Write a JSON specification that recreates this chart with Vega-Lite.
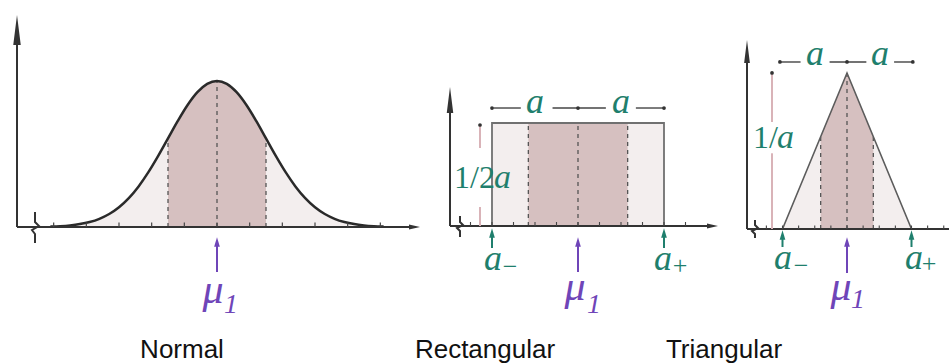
{
  "$schema": "https://vega.github.io/schema/vega-lite/v6.json",
  "padding": 0,
  "bounds": "flush",
  "spacing": 0,
  "background": "white",
  "config": {"view": {"stroke": null}},
  "datasets": {
    "nCurve": [
      {"z":-3.4,"density":0.00123},{"z":-3.2,"density":0.00238},{"z":-3.0,"density":0.00443},{"z":-2.8,"density":0.00792},{"z":-2.6,"density":0.01358},{"z":-2.4,"density":0.02239},{"z":-2.2,"density":0.03547},{"z":-2.0,"density":0.05399},{"z":-1.8,"density":0.07895},{"z":-1.6,"density":0.11092},{"z":-1.4,"density":0.14973},{"z":-1.2,"density":0.19419},{"z":-1.0,"density":0.24197},{"z":-0.8,"density":0.28969},{"z":-0.6,"density":0.33322},{"z":-0.4,"density":0.36827},{"z":-0.2,"density":0.39104},{"z":0,"density":0.39894},{"z":0.2,"density":0.39104},{"z":0.4,"density":0.36827},{"z":0.6,"density":0.33322},{"z":0.8,"density":0.28969},{"z":1.0,"density":0.24197},{"z":1.2,"density":0.19419},{"z":1.4,"density":0.14973},{"z":1.6,"density":0.11092},{"z":1.8,"density":0.07895},{"z":2.0,"density":0.05399},{"z":2.2,"density":0.03547},{"z":2.4,"density":0.02239},{"z":2.6,"density":0.01358},{"z":2.8,"density":0.00792},{"z":3.0,"density":0.00443},{"z":3.2,"density":0.00238},{"z":3.4,"density":0.00123}
    ],
    "nGuides": [{"z":-1,"bottom":0,"top":0.24197},{"z":0,"bottom":0,"top":0.39894},{"z":1,"bottom":0,"top":0.24197}],
    "nTicks": [{"z":-3.3333,"level":0},{"z":-2.6667,"level":0},{"z":-2,"level":0},{"z":-1.3333,"level":0},{"z":-0.6667,"level":0},{"z":0,"level":0},{"z":0.6667,"level":0},{"z":1.3333,"level":0},{"z":2,"level":0},{"z":2.6667,"level":0},{"z":3.3333,"level":0}],
    "nAxes": [{"x0":-4.0816,"x1":-4.0816,"y0":0,"y1":0.5383},{"x0":-4.0816,"x1":4.0306,"y0":0,"y1":0}],
    "nHeadUp": [{"x":-4.0816,"y":0.5383}],
    "nHeadRight": [{"x":4.0306,"y":0}],
    "nBreak": [{"i":1,"x":-3.7143,"y":0.0410},{"i":2,"x":-3.7143,"y":0.0137},{"i":3,"x":-3.6327,"y":0.0027},{"i":4,"x":-3.7755,"y":-0.0082},{"i":5,"x":-3.7143,"y":-0.0191},{"i":6,"x":-3.7143,"y":-0.0437}],
    "nArrows": [{"x":0,"y0":-0.1230,"y1":-0.0410,"kind":"mean"}],
    "nMu": [{"x":-0.0816,"y":-0.2077,"text":"μ","kind":"mean"}],
    "nSub": [{"x":0.2857,"y":-0.2350,"text":"1","kind":"mean"}],
    "nTitle": [{"x":-0.7143,"y":-0.3579,"text":"Normal"}],

    "rOuter": [{"lo":-1,"hi":1,"bottom":0,"top":0.5}],
    "rInner": [{"lo":-0.5774,"hi":0.5774,"bottom":0,"top":0.5}],
    "rGuides": [{"u":-0.5774,"bottom":0,"top":0.5},{"u":0,"bottom":0,"top":0.5},{"u":0.5774,"bottom":0,"top":0.5}],
    "rTicks": [{"u":-1.25,"level":0},{"u":-1,"level":0},{"u":-0.75,"level":0},{"u":-0.5,"level":0},{"u":-0.25,"level":0},{"u":0,"level":0},{"u":0.25,"level":0},{"u":0.5,"level":0},{"u":0.75,"level":0},{"u":1,"level":0},{"u":1.25,"level":0}],
    "rAxes": [{"x0":-1.4884,"x1":-1.4884,"y0":0,"y1":0.6117},{"x0":-1.4884,"x1":1.5640,"y0":0,"y1":0}],
    "rHeadUp": [{"x":-1.4884,"y":0.6117}],
    "rHeadRight": [{"x":1.5640,"y":0}],
    "rBreak": [{"i":1,"x":-1.3721,"y":0.0485},{"i":2,"x":-1.3721,"y":0.0194},{"i":3,"x":-1.3372,"y":0.0049},{"i":4,"x":-1.4070,"y":-0.0097},{"i":5,"x":-1.3721,"y":-0.0243},{"i":6,"x":-1.3721,"y":-0.0534}],
    "rAnno": [{"x0":-0.985,"x1":-0.665,"level":0.5728},{"x0":-0.296,"x1":0.324,"level":0.5728},{"x0":0.673,"x1":0.992,"level":0.5728}],
    "rAnnoDots": [{"x":-1,"level":0.5728},{"x":0,"level":0.5728},{"x":1,"level":0.5728}],
    "rPink": [{"x":-1.1395,"y0":0.3786,"y1":0.4903},{"x":-1.1395,"y0":0,"y1":0.0922}],
    "rPinkDot": [{"x":-1.1395,"y":0.4903}],
    "rArrows": [{"x":0,"y0":-0.2233,"y1":-0.0777,"kind":"mean"},{"x":-1,"y0":-0.1068,"y1":-0.0340,"kind":"bound"},{"x":1,"y0":-0.1068,"y1":-0.0340,"kind":"bound"}],
    "rMu": [{"x":-0.0349,"y":-0.3592,"text":"μ","kind":"mean"}],
    "rA": [{"x":-0.9884,"y":-0.2136,"text":"a","kind":"bound"},{"x":0.9884,"y":-0.2136,"text":"a","kind":"bound"},{"x":-0.5,"y":0.5485,"text":"a","kind":"bound"},{"x":0.5,"y":0.5485,"text":"a","kind":"bound"}],
    "rSub": [{"x":0.1860,"y":-0.4223,"text":"1","kind":"mean"}],
    "rSigns": [{"x":-0.7907,"y":-0.1990,"text":"−","kind":"bound"},{"x":1.1860,"y":-0.1942,"text":"+","kind":"bound"}],
    "rFrac": [{"x":-0.9651,"y":0.1845,"text":"1/2","kind":"bound"}],
    "rFracA": [{"x":-0.9767,"y":0.1845,"text":"a","kind":"bound"}],
    "rTitle": [{"x":-1.0814,"y":-0.6408,"text":"Rectangular"}],

    "tOuter": [{"u":-1,"d":0},{"u":0,"d":1},{"u":1,"d":0}],
    "tInner": [{"u":-0.4082,"d":0.5918},{"u":0,"d":1},{"u":0.4082,"d":0.5918}],
    "tGuides": [{"u":-0.4082,"bottom":0,"top":0.5918},{"u":0,"bottom":0,"top":1},{"u":0.4082,"bottom":0,"top":0.5918}],
    "tTicks": [{"u":-1.25,"level":0},{"u":-1,"level":0},{"u":-0.75,"level":0},{"u":-0.5,"level":0},{"u":-0.25,"level":0},{"u":0,"level":0},{"u":0.25,"level":0},{"u":0.5,"level":0},{"u":0.75,"level":0},{"u":1,"level":0},{"u":1.25,"level":0},{"u":1.5,"level":0}],
    "tAxes": [{"x0":-1.5504,"x1":-1.5504,"y0":0,"y1":1.1378},{"x0":-1.5504,"x1":1.5814,"y0":0,"y1":0}],
    "tHeadUp": [{"x":-1.5504,"y":1.1378}],
    "tBreak": [{"i":1,"x":-1.4264,"y":0.0577},{"i":2,"x":-1.4264,"y":0.0256},{"i":3,"x":-1.3798,"y":0.0064},{"i":4,"x":-1.4729,"y":-0.0128},{"i":5,"x":-1.4264,"y":-0.0321},{"i":6,"x":-1.4264,"y":-0.0577}],
    "tAnno": [{"x0":-1.04,"x1":-0.72,"level":1.0705},{"x0":-0.27,"x1":0.3,"level":1.0705},{"x0":0.73,"x1":1.02,"level":1.0705}],
    "tAnnoDots": [{"x":-1.04,"level":1.0705},{"x":0,"level":1.0705},{"x":1.02,"level":1.0705}],
    "tPink": [{"x":-1.1628,"y0":0.6859,"y1":1.0},{"x":-1.1628,"y0":0,"y1":0.4853}],
    "tPinkDot": [{"x":-1.1628,"y":1.0}],
    "tArrows": [{"x":0,"y0":-0.2821,"y1":-0.0833,"kind":"mean"},{"x":-1,"y0":-0.1154,"y1":-0.0385,"kind":"bound"},{"x":1,"y0":-0.1154,"y1":-0.0385,"kind":"bound"}],
    "tMu": [{"x":-0.0930,"y":-0.4551,"text":"μ","kind":"mean"}],
    "tA": [{"x":-0.9922,"y":-0.2564,"text":"a","kind":"bound"},{"x":1.0388,"y":-0.2564,"text":"a","kind":"bound"},{"x":-0.496,"y":1.0513,"text":"a","kind":"bound"},{"x":0.512,"y":1.0513,"text":"a","kind":"bound"}],
    "tSub": [{"x":0.1705,"y":-0.5064,"text":"1","kind":"mean"}],
    "tSigns": [{"x":-0.7132,"y":-0.2372,"text":"−","kind":"bound"},{"x":1.2713,"y":-0.2244,"text":"+","kind":"bound"}],
    "tFrac": [{"x":-1.0698,"y":0.5192,"text":"1/","kind":"bound"}],
    "tFracA": [{"x":-1.0853,"y":0.5192,"text":"a","kind":"bound"}],
    "tTitle": [{"x":-1.9070,"y":-0.8269,"text":"Triangular"}]
  },
  "hconcat": [
    {
      "width": 430, "height": 363,
      "layer": [
        {"data":{"name":"nCurve"},"mark":{"type":"area","fill":"#f3eeee","interpolate":"monotone"},
         "encoding":{"x":{"field":"z","type":"quantitative","scale":{"domain":[-4.4286,4.3469],"nice":false,"zero":false},"axis":null},
                     "y":{"field":"density","type":"quantitative","scale":{"domain":[-0.3716,0.6202],"nice":false,"zero":false},"axis":null}}},
        {"data":{"name":"nCurve"},"transform":[{"filter":"datum.z >= -1.001 && datum.z <= 1.001"}],"mark":{"type":"area","fill":"#d6c0c0","interpolate":"monotone"},
         "encoding":{"x":{"field":"z","type":"quantitative","scale":{"domain":[-4.4286,4.3469],"nice":false,"zero":false},"axis":null},
                     "y":{"field":"density","type":"quantitative","scale":{"domain":[-0.3716,0.6202],"nice":false,"zero":false},"axis":null}}},
        {"data":{"name":"nGuides"},"mark":{"type":"rule","color":"#555555","strokeWidth":1.3,"strokeDash":[4,4]},
         "encoding":{"x":{"field":"z","type":"quantitative","scale":{"domain":[-4.4286,4.3469],"nice":false,"zero":false},"axis":null},
                     "y":{"field":"bottom","type":"quantitative","scale":{"domain":[-0.3716,0.6202],"nice":false,"zero":false},"axis":null},
                     "y2":{"field":"top"}}},
        {"data":{"name":"nCurve"},"mark":{"type":"line","color":"#2a2a2a","strokeWidth":2.5,"interpolate":"monotone"},
         "encoding":{"x":{"field":"z","type":"quantitative","scale":{"domain":[-4.4286,4.3469],"nice":false,"zero":false},"axis":null},
                     "y":{"field":"density","type":"quantitative","scale":{"domain":[-0.3716,0.6202],"nice":false,"zero":false},"axis":null}}},
        {"data":{"name":"nAxes"},"mark":{"type":"rule","color":"#333333","strokeWidth":2},
         "encoding":{"x":{"field":"x0","type":"quantitative","scale":{"domain":[-4.4286,4.3469],"nice":false,"zero":false},"axis":null},"x2":{"field":"x1"},
                     "y":{"field":"y0","type":"quantitative","scale":{"domain":[-0.3716,0.6202],"nice":false,"zero":false},"axis":null},"y2":{"field":"y1"}}},
        {"data":{"name":"nHeadUp"},"mark":{"type":"point","shape":"M0,-1L0.25,1L-0.25,1Z","size":900,"filled":true,"opacity":1,"color":"#333333","strokeWidth":0},
         "encoding":{"x":{"field":"x","type":"quantitative","scale":{"domain":[-4.4286,4.3469],"nice":false,"zero":false},"axis":null},
                     "y":{"field":"y","type":"quantitative","scale":{"domain":[-0.3716,0.6202],"nice":false,"zero":false},"axis":null}}},
        {"data":{"name":"nHeadRight"},"mark":{"type":"point","shape":"M1,0L-1,-0.45L-1,0.45Z","size":121,"filled":true,"opacity":1,"color":"#333333","strokeWidth":0},
         "encoding":{"x":{"field":"x","type":"quantitative","scale":{"domain":[-4.4286,4.3469],"nice":false,"zero":false},"axis":null},
                     "y":{"field":"y","type":"quantitative","scale":{"domain":[-0.3716,0.6202],"nice":false,"zero":false},"axis":null}}},
        {"data":{"name":"nBreak"},"mark":{"type":"line","color":"#333333","strokeWidth":2},
         "encoding":{"x":{"field":"x","type":"quantitative","scale":{"domain":[-4.4286,4.3469],"nice":false,"zero":false},"axis":null},
                     "y":{"field":"y","type":"quantitative","scale":{"domain":[-0.3716,0.6202],"nice":false,"zero":false},"axis":null},
                     "order":{"field":"i","type":"quantitative"}}},
        {"data":{"name":"nTicks"},"mark":{"type":"point","shape":"M0,-1L0,0","size":81,"filled":false,"opacity":1,"stroke":"#444444","strokeWidth":1.2},
         "encoding":{"x":{"field":"z","type":"quantitative","scale":{"domain":[-4.4286,4.3469],"nice":false,"zero":false},"axis":null},
                     "y":{"field":"level","type":"quantitative","scale":{"domain":[-0.3716,0.6202],"nice":false,"zero":false},"axis":null}}},
        {"data":{"name":"nArrows"},"mark":{"type":"rule","strokeWidth":2},
         "encoding":{"x":{"field":"x","type":"quantitative","scale":{"domain":[-4.4286,4.3469],"nice":false,"zero":false},"axis":null},
                     "y":{"field":"y0","type":"quantitative","scale":{"domain":[-0.3716,0.6202],"nice":false,"zero":false},"axis":null},"y2":{"field":"y1"},
                     "color":{"field":"kind","type":"nominal","scale":{"domain":["mean","bound"],"range":["#6f45b8","#1f7f6d"]},"legend":null}}},
        {"data":{"name":"nArrows"},"mark":{"type":"point","shape":"M0,-1L0.6,1L-0.6,1Z","size":90,"filled":true,"opacity":1,"strokeWidth":0},
         "encoding":{"x":{"field":"x","type":"quantitative","scale":{"domain":[-4.4286,4.3469],"nice":false,"zero":false},"axis":null},
                     "y":{"field":"y1","type":"quantitative","scale":{"domain":[-0.3716,0.6202],"nice":false,"zero":false},"axis":null},
                     "color":{"field":"kind","type":"nominal","scale":{"domain":["mean","bound"],"range":["#6f45b8","#1f7f6d"]},"legend":null}}},
        {"data":{"name":"nMu"},"mark":{"type":"text","font":"Liberation Serif","fontStyle":"italic","fontSize":42,"align":"center","baseline":"alphabetic"},
         "encoding":{"x":{"field":"x","type":"quantitative","scale":{"domain":[-4.4286,4.3469],"nice":false,"zero":false},"axis":null},
                     "y":{"field":"y","type":"quantitative","scale":{"domain":[-0.3716,0.6202],"nice":false,"zero":false},"axis":null},
                     "text":{"field":"text","type":"nominal"},
                     "color":{"field":"kind","type":"nominal","scale":{"domain":["mean","bound"],"range":["#6f45b8","#1f7f6d"]},"legend":null}}},
        {"data":{"name":"nSub"},"mark":{"type":"text","font":"Liberation Serif","fontStyle":"italic","fontSize":28,"align":"center","baseline":"alphabetic"},
         "encoding":{"x":{"field":"x","type":"quantitative","scale":{"domain":[-4.4286,4.3469],"nice":false,"zero":false},"axis":null},
                     "y":{"field":"y","type":"quantitative","scale":{"domain":[-0.3716,0.6202],"nice":false,"zero":false},"axis":null},
                     "text":{"field":"text","type":"nominal"},
                     "color":{"field":"kind","type":"nominal","scale":{"domain":["mean","bound"],"range":["#6f45b8","#1f7f6d"]},"legend":null}}},
        {"data":{"name":"nTitle"},"mark":{"type":"text","font":"Liberation Sans","fontSize":26,"align":"center","baseline":"alphabetic","color":"#111111"},
         "encoding":{"x":{"field":"x","type":"quantitative","scale":{"domain":[-4.4286,4.3469],"nice":false,"zero":false},"axis":null},
                     "y":{"field":"y","type":"quantitative","scale":{"domain":[-0.3716,0.6202],"nice":false,"zero":false},"axis":null},
                     "text":{"field":"text","type":"nominal"}}}
      ]
    },
    {
      "width": 295, "height": 363,
      "layer": [
        {"data":{"name":"rOuter"},"mark":{"type":"rect","fill":"#f3eeee"},
         "encoding":{"x":{"field":"lo","type":"quantitative","scale":{"domain":[-1.7209,1.7093],"nice":false,"zero":false},"axis":null},"x2":{"field":"hi"},
                     "y":{"field":"bottom","type":"quantitative","scale":{"domain":[-0.6650,1.0971],"nice":false,"zero":false},"axis":null},"y2":{"field":"top"}}},
        {"data":{"name":"rInner"},"mark":{"type":"rect","fill":"#d6c0c0"},
         "encoding":{"x":{"field":"lo","type":"quantitative","scale":{"domain":[-1.7209,1.7093],"nice":false,"zero":false},"axis":null},"x2":{"field":"hi"},
                     "y":{"field":"bottom","type":"quantitative","scale":{"domain":[-0.6650,1.0971],"nice":false,"zero":false},"axis":null},"y2":{"field":"top"}}},
        {"data":{"name":"rGuides"},"mark":{"type":"rule","color":"#555555","strokeWidth":1.3,"strokeDash":[4,4]},
         "encoding":{"x":{"field":"u","type":"quantitative","scale":{"domain":[-1.7209,1.7093],"nice":false,"zero":false},"axis":null},
                     "y":{"field":"bottom","type":"quantitative","scale":{"domain":[-0.6650,1.0971],"nice":false,"zero":false},"axis":null},"y2":{"field":"top"}}},
        {"data":{"name":"rOuter"},"mark":{"type":"rect","fillOpacity":0,"stroke":"#707070","strokeWidth":1.8},
         "encoding":{"x":{"field":"lo","type":"quantitative","scale":{"domain":[-1.7209,1.7093],"nice":false,"zero":false},"axis":null},"x2":{"field":"hi"},
                     "y":{"field":"bottom","type":"quantitative","scale":{"domain":[-0.6650,1.0971],"nice":false,"zero":false},"axis":null},"y2":{"field":"top"}}},
        {"data":{"name":"rAxes"},"mark":{"type":"rule","color":"#333333","strokeWidth":2},
         "encoding":{"x":{"field":"x0","type":"quantitative","scale":{"domain":[-1.7209,1.7093],"nice":false,"zero":false},"axis":null},"x2":{"field":"x1"},
                     "y":{"field":"y0","type":"quantitative","scale":{"domain":[-0.6650,1.0971],"nice":false,"zero":false},"axis":null},"y2":{"field":"y1"}}},
        {"data":{"name":"rHeadUp"},"mark":{"type":"point","shape":"M0,-1L0.25,1L-0.25,1Z","size":676,"filled":true,"opacity":1,"color":"#333333","strokeWidth":0},
         "encoding":{"x":{"field":"x","type":"quantitative","scale":{"domain":[-1.7209,1.7093],"nice":false,"zero":false},"axis":null},
                     "y":{"field":"y","type":"quantitative","scale":{"domain":[-0.6650,1.0971],"nice":false,"zero":false},"axis":null}}},
        {"data":{"name":"rHeadRight"},"mark":{"type":"point","shape":"M1,0L-1,-0.45L-1,0.45Z","size":121,"filled":true,"opacity":1,"color":"#333333","strokeWidth":0},
         "encoding":{"x":{"field":"x","type":"quantitative","scale":{"domain":[-1.7209,1.7093],"nice":false,"zero":false},"axis":null},
                     "y":{"field":"y","type":"quantitative","scale":{"domain":[-0.6650,1.0971],"nice":false,"zero":false},"axis":null}}},
        {"data":{"name":"rBreak"},"mark":{"type":"line","color":"#333333","strokeWidth":2},
         "encoding":{"x":{"field":"x","type":"quantitative","scale":{"domain":[-1.7209,1.7093],"nice":false,"zero":false},"axis":null},
                     "y":{"field":"y","type":"quantitative","scale":{"domain":[-0.6650,1.0971],"nice":false,"zero":false},"axis":null},
                     "order":{"field":"i","type":"quantitative"}}},
        {"data":{"name":"rTicks"},"mark":{"type":"point","shape":"M0,-1L0,0","size":64,"filled":false,"opacity":1,"stroke":"#444444","strokeWidth":1.1},
         "encoding":{"x":{"field":"u","type":"quantitative","scale":{"domain":[-1.7209,1.7093],"nice":false,"zero":false},"axis":null},
                     "y":{"field":"level","type":"quantitative","scale":{"domain":[-0.6650,1.0971],"nice":false,"zero":false},"axis":null}}},
        {"data":{"name":"rAnno"},"mark":{"type":"rule","color":"#444444","strokeWidth":1.4},
         "encoding":{"x":{"field":"x0","type":"quantitative","scale":{"domain":[-1.7209,1.7093],"nice":false,"zero":false},"axis":null},"x2":{"field":"x1"},
                     "y":{"field":"level","type":"quantitative","scale":{"domain":[-0.6650,1.0971],"nice":false,"zero":false},"axis":null}}},
        {"data":{"name":"rAnnoDots"},"mark":{"type":"circle","size":14,"opacity":1,"color":"#333333"},
         "encoding":{"x":{"field":"x","type":"quantitative","scale":{"domain":[-1.7209,1.7093],"nice":false,"zero":false},"axis":null},
                     "y":{"field":"level","type":"quantitative","scale":{"domain":[-0.6650,1.0971],"nice":false,"zero":false},"axis":null}}},
        {"data":{"name":"rPink"},"mark":{"type":"rule","color":"#d9b3b8","strokeWidth":2},
         "encoding":{"x":{"field":"x","type":"quantitative","scale":{"domain":[-1.7209,1.7093],"nice":false,"zero":false},"axis":null},
                     "y":{"field":"y0","type":"quantitative","scale":{"domain":[-0.6650,1.0971],"nice":false,"zero":false},"axis":null},"y2":{"field":"y1"}}},
        {"data":{"name":"rPinkDot"},"mark":{"type":"circle","size":14,"opacity":1,"color":"#333333"},
         "encoding":{"x":{"field":"x","type":"quantitative","scale":{"domain":[-1.7209,1.7093],"nice":false,"zero":false},"axis":null},
                     "y":{"field":"y","type":"quantitative","scale":{"domain":[-0.6650,1.0971],"nice":false,"zero":false},"axis":null}}},
        {"data":{"name":"rArrows"},"mark":{"type":"rule","strokeWidth":2},
         "encoding":{"x":{"field":"x","type":"quantitative","scale":{"domain":[-1.7209,1.7093],"nice":false,"zero":false},"axis":null},
                     "y":{"field":"y0","type":"quantitative","scale":{"domain":[-0.6650,1.0971],"nice":false,"zero":false},"axis":null},"y2":{"field":"y1"},
                     "color":{"field":"kind","type":"nominal","scale":{"domain":["mean","bound"],"range":["#6f45b8","#1f7f6d"]},"legend":null}}},
        {"data":{"name":"rArrows"},"mark":{"type":"point","shape":"M0,-1L0.6,1L-0.6,1Z","size":90,"filled":true,"opacity":1,"strokeWidth":0},
         "encoding":{"x":{"field":"x","type":"quantitative","scale":{"domain":[-1.7209,1.7093],"nice":false,"zero":false},"axis":null},
                     "y":{"field":"y1","type":"quantitative","scale":{"domain":[-0.6650,1.0971],"nice":false,"zero":false},"axis":null},
                     "color":{"field":"kind","type":"nominal","scale":{"domain":["mean","bound"],"range":["#6f45b8","#1f7f6d"]},"legend":null}}},
        {"data":{"name":"rMu"},"mark":{"type":"text","font":"Liberation Serif","fontStyle":"italic","fontSize":42,"align":"center","baseline":"alphabetic"},
         "encoding":{"x":{"field":"x","type":"quantitative","scale":{"domain":[-1.7209,1.7093],"nice":false,"zero":false},"axis":null},
                     "y":{"field":"y","type":"quantitative","scale":{"domain":[-0.6650,1.0971],"nice":false,"zero":false},"axis":null},
                     "text":{"field":"text","type":"nominal"},
                     "color":{"field":"kind","type":"nominal","scale":{"domain":["mean","bound"],"range":["#6f45b8","#1f7f6d"]},"legend":null}}},
        {"data":{"name":"rA"},"mark":{"type":"text","font":"Liberation Serif","fontStyle":"italic","fontSize":36,"align":"center","baseline":"alphabetic"},
         "encoding":{"x":{"field":"x","type":"quantitative","scale":{"domain":[-1.7209,1.7093],"nice":false,"zero":false},"axis":null},
                     "y":{"field":"y","type":"quantitative","scale":{"domain":[-0.6650,1.0971],"nice":false,"zero":false},"axis":null},
                     "text":{"field":"text","type":"nominal"},
                     "color":{"field":"kind","type":"nominal","scale":{"domain":["mean","bound"],"range":["#6f45b8","#1f7f6d"]},"legend":null}}},
        {"data":{"name":"rSub"},"mark":{"type":"text","font":"Liberation Serif","fontStyle":"italic","fontSize":28,"align":"center","baseline":"alphabetic"},
         "encoding":{"x":{"field":"x","type":"quantitative","scale":{"domain":[-1.7209,1.7093],"nice":false,"zero":false},"axis":null},
                     "y":{"field":"y","type":"quantitative","scale":{"domain":[-0.6650,1.0971],"nice":false,"zero":false},"axis":null},
                     "text":{"field":"text","type":"nominal"},
                     "color":{"field":"kind","type":"nominal","scale":{"domain":["mean","bound"],"range":["#6f45b8","#1f7f6d"]},"legend":null}}},
        {"data":{"name":"rSigns"},"mark":{"type":"text","font":"Liberation Serif","fontSize":26,"align":"center","baseline":"middle"},
         "encoding":{"x":{"field":"x","type":"quantitative","scale":{"domain":[-1.7209,1.7093],"nice":false,"zero":false},"axis":null},
                     "y":{"field":"y","type":"quantitative","scale":{"domain":[-0.6650,1.0971],"nice":false,"zero":false},"axis":null},
                     "text":{"field":"text","type":"nominal"},
                     "color":{"field":"kind","type":"nominal","scale":{"domain":["mean","bound"],"range":["#6f45b8","#1f7f6d"]},"legend":null}}},
        {"data":{"name":"rFrac"},"mark":{"type":"text","font":"Liberation Serif","fontSize":32,"align":"right","baseline":"alphabetic"},
         "encoding":{"x":{"field":"x","type":"quantitative","scale":{"domain":[-1.7209,1.7093],"nice":false,"zero":false},"axis":null},
                     "y":{"field":"y","type":"quantitative","scale":{"domain":[-0.6650,1.0971],"nice":false,"zero":false},"axis":null},
                     "text":{"field":"text","type":"nominal"},
                     "color":{"field":"kind","type":"nominal","scale":{"domain":["mean","bound"],"range":["#6f45b8","#1f7f6d"]},"legend":null}}},
        {"data":{"name":"rFracA"},"mark":{"type":"text","font":"Liberation Serif","fontStyle":"italic","fontSize":34,"align":"left","baseline":"alphabetic"},
         "encoding":{"x":{"field":"x","type":"quantitative","scale":{"domain":[-1.7209,1.7093],"nice":false,"zero":false},"axis":null},
                     "y":{"field":"y","type":"quantitative","scale":{"domain":[-0.6650,1.0971],"nice":false,"zero":false},"axis":null},
                     "text":{"field":"text","type":"nominal"},
                     "color":{"field":"kind","type":"nominal","scale":{"domain":["mean","bound"],"range":["#6f45b8","#1f7f6d"]},"legend":null}}},
        {"data":{"name":"rTitle"},"mark":{"type":"text","font":"Liberation Sans","fontSize":26,"align":"center","baseline":"alphabetic","color":"#111111"},
         "encoding":{"x":{"field":"x","type":"quantitative","scale":{"domain":[-1.7209,1.7093],"nice":false,"zero":false},"axis":null},
                     "y":{"field":"y","type":"quantitative","scale":{"domain":[-0.6650,1.0971],"nice":false,"zero":false},"axis":null},
                     "text":{"field":"text","type":"nominal"}}}
      ]
    },
    {
      "width": 224, "height": 363,
      "layer": [
        {"data":{"name":"tOuter"},"mark":{"type":"area","fill":"#f3eeee"},
         "encoding":{"x":{"field":"u","type":"quantitative","scale":{"domain":[-1.8915,1.5814],"nice":false,"zero":false},"axis":null},
                     "y":{"field":"d","type":"quantitative","scale":{"domain":[-0.8590,1.4679],"nice":false,"zero":false},"axis":null}}},
        {"data":{"name":"tInner"},"mark":{"type":"area","fill":"#d6c0c0"},
         "encoding":{"x":{"field":"u","type":"quantitative","scale":{"domain":[-1.8915,1.5814],"nice":false,"zero":false},"axis":null},
                     "y":{"field":"d","type":"quantitative","scale":{"domain":[-0.8590,1.4679],"nice":false,"zero":false},"axis":null}}},
        {"data":{"name":"tGuides"},"mark":{"type":"rule","color":"#555555","strokeWidth":1.3,"strokeDash":[4,4]},
         "encoding":{"x":{"field":"u","type":"quantitative","scale":{"domain":[-1.8915,1.5814],"nice":false,"zero":false},"axis":null},
                     "y":{"field":"bottom","type":"quantitative","scale":{"domain":[-0.8590,1.4679],"nice":false,"zero":false},"axis":null},"y2":{"field":"top"}}},
        {"data":{"name":"tOuter"},"mark":{"type":"line","color":"#5c5c5c","strokeWidth":1.6},
         "encoding":{"x":{"field":"u","type":"quantitative","scale":{"domain":[-1.8915,1.5814],"nice":false,"zero":false},"axis":null},
                     "y":{"field":"d","type":"quantitative","scale":{"domain":[-0.8590,1.4679],"nice":false,"zero":false},"axis":null}}},
        {"data":{"name":"tAxes"},"mark":{"type":"rule","color":"#333333","strokeWidth":2},
         "encoding":{"x":{"field":"x0","type":"quantitative","scale":{"domain":[-1.8915,1.5814],"nice":false,"zero":false},"axis":null},"x2":{"field":"x1"},
                     "y":{"field":"y0","type":"quantitative","scale":{"domain":[-0.8590,1.4679],"nice":false,"zero":false},"axis":null},"y2":{"field":"y1"}}},
        {"data":{"name":"tHeadUp"},"mark":{"type":"point","shape":"M0,-1L0.25,1L-0.25,1Z","size":529,"filled":true,"opacity":1,"color":"#333333","strokeWidth":0},
         "encoding":{"x":{"field":"x","type":"quantitative","scale":{"domain":[-1.8915,1.5814],"nice":false,"zero":false},"axis":null},
                     "y":{"field":"y","type":"quantitative","scale":{"domain":[-0.8590,1.4679],"nice":false,"zero":false},"axis":null}}},
        {"data":{"name":"tBreak"},"mark":{"type":"line","color":"#333333","strokeWidth":2},
         "encoding":{"x":{"field":"x","type":"quantitative","scale":{"domain":[-1.8915,1.5814],"nice":false,"zero":false},"axis":null},
                     "y":{"field":"y","type":"quantitative","scale":{"domain":[-0.8590,1.4679],"nice":false,"zero":false},"axis":null},
                     "order":{"field":"i","type":"quantitative"}}},
        {"data":{"name":"tTicks"},"mark":{"type":"point","shape":"M0,-1L0,0","size":49,"filled":false,"opacity":1,"stroke":"#444444","strokeWidth":1.1},
         "encoding":{"x":{"field":"u","type":"quantitative","scale":{"domain":[-1.8915,1.5814],"nice":false,"zero":false},"axis":null},
                     "y":{"field":"level","type":"quantitative","scale":{"domain":[-0.8590,1.4679],"nice":false,"zero":false},"axis":null}}},
        {"data":{"name":"tAnno"},"mark":{"type":"rule","color":"#444444","strokeWidth":1.4},
         "encoding":{"x":{"field":"x0","type":"quantitative","scale":{"domain":[-1.8915,1.5814],"nice":false,"zero":false},"axis":null},"x2":{"field":"x1"},
                     "y":{"field":"level","type":"quantitative","scale":{"domain":[-0.8590,1.4679],"nice":false,"zero":false},"axis":null}}},
        {"data":{"name":"tAnnoDots"},"mark":{"type":"circle","size":14,"opacity":1,"color":"#333333"},
         "encoding":{"x":{"field":"x","type":"quantitative","scale":{"domain":[-1.8915,1.5814],"nice":false,"zero":false},"axis":null},
                     "y":{"field":"level","type":"quantitative","scale":{"domain":[-0.8590,1.4679],"nice":false,"zero":false},"axis":null}}},
        {"data":{"name":"tPink"},"mark":{"type":"rule","color":"#d9b3b8","strokeWidth":2},
         "encoding":{"x":{"field":"x","type":"quantitative","scale":{"domain":[-1.8915,1.5814],"nice":false,"zero":false},"axis":null},
                     "y":{"field":"y0","type":"quantitative","scale":{"domain":[-0.8590,1.4679],"nice":false,"zero":false},"axis":null},"y2":{"field":"y1"}}},
        {"data":{"name":"tPinkDot"},"mark":{"type":"circle","size":14,"opacity":1,"color":"#333333"},
         "encoding":{"x":{"field":"x","type":"quantitative","scale":{"domain":[-1.8915,1.5814],"nice":false,"zero":false},"axis":null},
                     "y":{"field":"y","type":"quantitative","scale":{"domain":[-0.8590,1.4679],"nice":false,"zero":false},"axis":null}}},
        {"data":{"name":"tArrows"},"mark":{"type":"rule","strokeWidth":2},
         "encoding":{"x":{"field":"x","type":"quantitative","scale":{"domain":[-1.8915,1.5814],"nice":false,"zero":false},"axis":null},
                     "y":{"field":"y0","type":"quantitative","scale":{"domain":[-0.8590,1.4679],"nice":false,"zero":false},"axis":null},"y2":{"field":"y1"},
                     "color":{"field":"kind","type":"nominal","scale":{"domain":["mean","bound"],"range":["#6f45b8","#1f7f6d"]},"legend":null}}},
        {"data":{"name":"tArrows"},"mark":{"type":"point","shape":"M0,-1L0.6,1L-0.6,1Z","size":90,"filled":true,"opacity":1,"strokeWidth":0},
         "encoding":{"x":{"field":"x","type":"quantitative","scale":{"domain":[-1.8915,1.5814],"nice":false,"zero":false},"axis":null},
                     "y":{"field":"y1","type":"quantitative","scale":{"domain":[-0.8590,1.4679],"nice":false,"zero":false},"axis":null},
                     "color":{"field":"kind","type":"nominal","scale":{"domain":["mean","bound"],"range":["#6f45b8","#1f7f6d"]},"legend":null}}},
        {"data":{"name":"tMu"},"mark":{"type":"text","font":"Liberation Serif","fontStyle":"italic","fontSize":42,"align":"center","baseline":"alphabetic"},
         "encoding":{"x":{"field":"x","type":"quantitative","scale":{"domain":[-1.8915,1.5814],"nice":false,"zero":false},"axis":null},
                     "y":{"field":"y","type":"quantitative","scale":{"domain":[-0.8590,1.4679],"nice":false,"zero":false},"axis":null},
                     "text":{"field":"text","type":"nominal"},
                     "color":{"field":"kind","type":"nominal","scale":{"domain":["mean","bound"],"range":["#6f45b8","#1f7f6d"]},"legend":null}}},
        {"data":{"name":"tA"},"mark":{"type":"text","font":"Liberation Serif","fontStyle":"italic","fontSize":36,"align":"center","baseline":"alphabetic"},
         "encoding":{"x":{"field":"x","type":"quantitative","scale":{"domain":[-1.8915,1.5814],"nice":false,"zero":false},"axis":null},
                     "y":{"field":"y","type":"quantitative","scale":{"domain":[-0.8590,1.4679],"nice":false,"zero":false},"axis":null},
                     "text":{"field":"text","type":"nominal"},
                     "color":{"field":"kind","type":"nominal","scale":{"domain":["mean","bound"],"range":["#6f45b8","#1f7f6d"]},"legend":null}}},
        {"data":{"name":"tSub"},"mark":{"type":"text","font":"Liberation Serif","fontStyle":"italic","fontSize":28,"align":"center","baseline":"alphabetic"},
         "encoding":{"x":{"field":"x","type":"quantitative","scale":{"domain":[-1.8915,1.5814],"nice":false,"zero":false},"axis":null},
                     "y":{"field":"y","type":"quantitative","scale":{"domain":[-0.8590,1.4679],"nice":false,"zero":false},"axis":null},
                     "text":{"field":"text","type":"nominal"},
                     "color":{"field":"kind","type":"nominal","scale":{"domain":["mean","bound"],"range":["#6f45b8","#1f7f6d"]},"legend":null}}},
        {"data":{"name":"tSigns"},"mark":{"type":"text","font":"Liberation Serif","fontSize":26,"align":"center","baseline":"middle"},
         "encoding":{"x":{"field":"x","type":"quantitative","scale":{"domain":[-1.8915,1.5814],"nice":false,"zero":false},"axis":null},
                     "y":{"field":"y","type":"quantitative","scale":{"domain":[-0.8590,1.4679],"nice":false,"zero":false},"axis":null},
                     "text":{"field":"text","type":"nominal"},
                     "color":{"field":"kind","type":"nominal","scale":{"domain":["mean","bound"],"range":["#6f45b8","#1f7f6d"]},"legend":null}}},
        {"data":{"name":"tFrac"},"mark":{"type":"text","font":"Liberation Serif","fontSize":32,"align":"right","baseline":"alphabetic"},
         "encoding":{"x":{"field":"x","type":"quantitative","scale":{"domain":[-1.8915,1.5814],"nice":false,"zero":false},"axis":null},
                     "y":{"field":"y","type":"quantitative","scale":{"domain":[-0.8590,1.4679],"nice":false,"zero":false},"axis":null},
                     "text":{"field":"text","type":"nominal"},
                     "color":{"field":"kind","type":"nominal","scale":{"domain":["mean","bound"],"range":["#6f45b8","#1f7f6d"]},"legend":null}}},
        {"data":{"name":"tFracA"},"mark":{"type":"text","font":"Liberation Serif","fontStyle":"italic","fontSize":34,"align":"left","baseline":"alphabetic"},
         "encoding":{"x":{"field":"x","type":"quantitative","scale":{"domain":[-1.8915,1.5814],"nice":false,"zero":false},"axis":null},
                     "y":{"field":"y","type":"quantitative","scale":{"domain":[-0.8590,1.4679],"nice":false,"zero":false},"axis":null},
                     "text":{"field":"text","type":"nominal"},
                     "color":{"field":"kind","type":"nominal","scale":{"domain":["mean","bound"],"range":["#6f45b8","#1f7f6d"]},"legend":null}}},
        {"data":{"name":"tTitle"},"mark":{"type":"text","font":"Liberation Sans","fontSize":26,"align":"center","baseline":"alphabetic","color":"#111111"},
         "encoding":{"x":{"field":"x","type":"quantitative","scale":{"domain":[-1.8915,1.5814],"nice":false,"zero":false},"axis":null},
                     "y":{"field":"y","type":"quantitative","scale":{"domain":[-0.8590,1.4679],"nice":false,"zero":false},"axis":null},
                     "text":{"field":"text","type":"nominal"}}}
      ]
    }
  ]
}
